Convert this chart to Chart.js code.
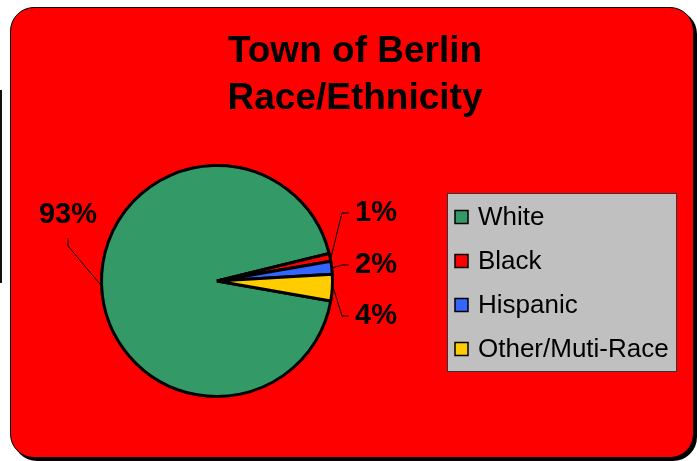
<!DOCTYPE html>
<html>
<head>
<meta charset="utf-8">
<script src="https://cdn.jsdelivr.net/npm/chart.js@4.4.0/dist/chart.umd.min.js"></script>
<style>
  html, body { margin: 0; padding: 0; background: #fff; }
  body { width: 697px; height: 461px; position: relative; overflow: hidden; }
  #cadre {
    position: absolute; left: 10px; top: 7px; width: 684px; height: 451px;
    box-sizing: border-box; border: 1px solid #000; border-radius: 24px;
    background: #ff0000; box-shadow: 3px 3px 0 #000;
  }
  #trait { position: absolute; left: 0; top: 90px; width: 2px; height: 193px; background: #111; }
  canvas { position: absolute; left: 0; top: 0; }
</style>
</head>
<body>
<div id="trait"></div>
<div id="cadre"></div>
<canvas id="race-chart" width="697" height="461"></canvas>
<script>
// Données du graphique
const titleLines = ['Town of Berlin', 'Race/Ethnicity'];
const categories = ['White', 'Black', 'Hispanic', 'Other/Muti-Race'];
const shares = [93.4, 1.1, 1.8, 3.7];
const sliceColors = ['#339966', '#ff0000', '#3366ff', '#ffcc00'];

const FONT = '"Liberation Sans", Arial, sans-serif';

// Position des étiquettes de pourcentage, relative au centre du camembert
const labelSpots = [
    { dx: -149, dy: -66, align: 'center' },
    { dx: 138, dy: -68, align: 'left' },
    { dx: 138, dy: -16, align: 'left' },
    { dx: 138, dy: 35, align: 'left' }
];

// Titre sur deux lignes
const titlePlugin = {
    id: 'titreExcel',
    afterDraw(chart) {
        const ctx = chart.ctx;
        ctx.save();
        ctx.fillStyle = '#000';
        ctx.font = 'bold 37px ' + FONT;
        ctx.textAlign = 'center';
        ctx.textBaseline = 'middle';
        titleLines.forEach((line, i) => {
            ctx.fillText(line, 355, 52 + i * 47);
        });
        ctx.restore();
    }
};

// Étiquettes avec lignes de rappel
const labelPlugin = {
    id: 'etiquettes',
    afterDatasetsDraw(chart) {
        const ctx = chart.ctx;
        const meta = chart.getDatasetMeta(0);
        const total = shares.reduce((a, b) => a + b, 0);
        ctx.save();
        ctx.font = 'bold 29px ' + FONT;
        ctx.textBaseline = 'middle';
        ctx.fillStyle = '#000';
        ctx.strokeStyle = '#000';
        ctx.lineWidth = 1;
        meta.data.forEach((arc, i) => {
            const p = arc.getProps(['x', 'y', 'startAngle', 'endAngle', 'outerRadius'], true);
            const mid = (p.startAngle + p.endAngle) / 2;
            const ex = p.x + Math.cos(mid) * (p.outerRadius + 1);
            const ey = p.y + Math.sin(mid) * (p.outerRadius + 1);
            const spot = labelSpots[i];
            const lx = p.x + spot.dx;
            const ly = p.y + spot.dy;
            const text = Math.round(shares[i] / total * 100) + '%';

            ctx.beginPath();
            if (spot.align === 'center') {
                ctx.moveTo(lx, ly + 23);
                ctx.lineTo(lx, ly + 31);
            } else {
                ctx.moveTo(lx - 6, ly);
                ctx.lineTo(lx - 13, ly);
            }
            ctx.lineTo(ex, ey);
            ctx.stroke();

            ctx.textAlign = spot.align;
            ctx.fillText(text, lx, ly);
        });
        ctx.restore();
    }
};

// Légende dans un cadre gris
const legendPlugin = {
    id: 'legendeGrise',
    afterDraw(chart) {
        const ctx = chart.ctx;
        const ds = chart.data.datasets[0];
        ctx.save();
        ctx.fillStyle = '#c0c0c0';
        ctx.fillRect(447, 193, 229, 178);
        ctx.strokeStyle = '#333';
        ctx.lineWidth = 1;
        ctx.strokeRect(447.5, 193.5, 229, 178);

        ctx.font = '26px ' + FONT;
        ctx.textBaseline = 'middle';
        ctx.textAlign = 'left';
        chart.data.labels.forEach((label, i) => {
            const cy = 217 + i * 44;
            ctx.fillStyle = ds.backgroundColor[i];
            ctx.fillRect(455, cy - 6.5, 13, 13);
            ctx.strokeStyle = '#000';
            ctx.lineWidth = 1.5;
            ctx.strokeRect(455, cy - 6.5, 13, 13);
            ctx.fillStyle = '#000';
            ctx.fillText(label, 478, cy + 1);
        });
        ctx.restore();
    }
};

new Chart(document.getElementById('race-chart'), {
    type: 'pie',
    data: {
        labels: categories,
        datasets: [{
            data: shares,
            backgroundColor: sliceColors,
            borderColor: '#000',
            borderWidth: 3,
            hoverBorderWidth: 3
        }]
    },
    options: {
        responsive: false,
        animation: false,
        devicePixelRatio: 1,
        rotation: 100,
        layout: {
            padding: { top: 164, bottom: 63, left: 100, right: 363 }
        },
        plugins: {
            legend: { display: false },
            title: { display: false },
            tooltip: { enabled: false }
        }
    },
    plugins: [titlePlugin, labelPlugin, legendPlugin]
});
</script>
</body>
</html>
